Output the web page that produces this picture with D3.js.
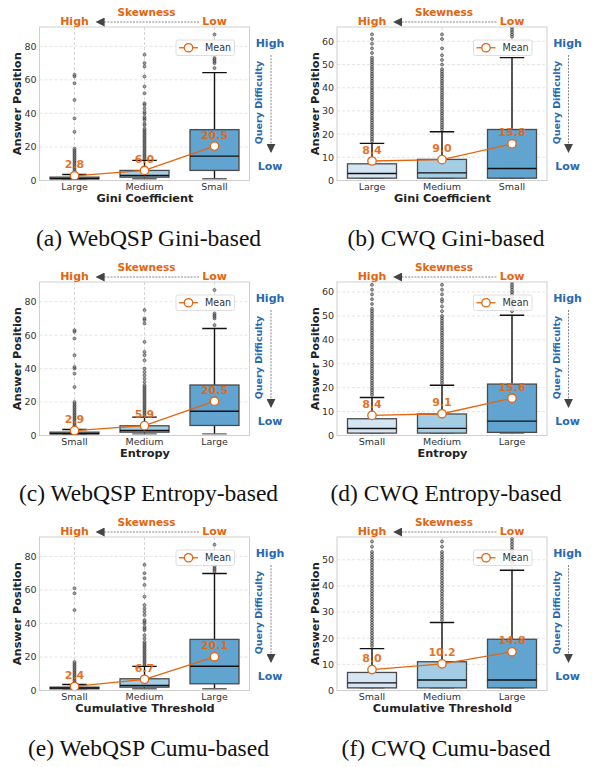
<!DOCTYPE html>
<html>
<head>
<meta charset="utf-8">
<script src="https://cdn.jsdelivr.net/npm/d3@7"></script>
<style>
  body { margin: 0; background: #fff; }
  svg { display: block; }
  text { font-family: "DejaVu Sans", sans-serif; }
</style>
</head>
<body>
<svg id="chart" width="592" height="767"></svg>
<script>
// ---- data ----
const giniCats = ['Large', 'Medium', 'Small'];
const sizeCats = ['Small', 'Medium', 'Large'];

// box stats per category: [whiskerLow, q1, median, q3, whiskerHigh]
const webqspGiniStats = [[1, 1, 1.2, 2, 3.6], [1, 2, 3, 6, 12], [1, 6, 14.5, 30.3, 64.3]];
const webqspGiniMeans = [2.8, 6.0, 20.5];
const webqspGiniOutliers = [
  [4, 5, 6, 7, 8, 9, 10, 11, 12, 13, 14, 15, 16, 17, 18, 19, 29, 37, 48, 58, 62, 63],
  [13, 14, 15, 16, 17, 18, 19, 20, 21, 22, 23, 24, 25, 26, 27, 28, 29, 30, 31, 33, 34, 36, 37, 38, 40, 41, 43, 45, 46, 52, 56, 62, 68, 70, 75],
  [67, 70, 71, 72, 73, 87]
];

const cwqGiniStats = [[1, 1, 3, 7.2, 16], [1, 1, 3.3, 9.1, 21], [1, 1, 5.2, 22, 53]];
const cwqGiniMeans = [8.4, 9.0, 15.8];
const cwqGiniOutliers = [
  [17, 18, 19, 20, 21, 22, 23, 24, 25, 26, 27, 28, 29, 30, 31, 32, 33, 34, 35, 36, 37, 38, 39, 40, 41, 42, 43, 44, 45, 46, 47, 48, 49, 50, 51, 52, 53, 55, 57, 59, 61, 63],
  [22, 23, 24, 25, 26, 27, 28, 29, 30, 31, 32, 33, 34, 35, 36, 37, 38, 39, 40, 41, 42, 43, 44, 45, 46, 47, 48, 50, 52, 54, 57, 61, 63],
  [62, 63, 64, 65, 66, 70]
];

const webqspEntropyStats = [[1, 1, 1.2, 2, 3.6], [1, 2, 3, 5.8, 11], [1, 6, 14.5, 30.2, 64]];
const webqspEntropyMeans = [2.9, 5.9, 20.5];
const webqspEntropyOutliers = [
  [4, 5, 6, 7, 8, 9, 10, 11, 12, 13, 14, 15, 16, 17, 18, 19, 20, 29, 37, 40, 41, 48, 58, 62, 63],
  [12, 13, 14, 15, 16, 17, 18, 19, 20, 21, 22, 23, 24, 25, 26, 27, 28, 29, 30, 32, 34, 36, 38, 40, 45, 48, 50, 56, 67, 69, 70, 75],
  [66, 70, 71, 72, 73, 87]
];

const cwqEntropyStats = [[1, 1, 2.9, 7, 15.9], [1, 1, 3, 9, 21], [1, 1.3, 6, 21.5, 50.3]];
const cwqEntropyMeans = [8.4, 9.1, 15.6];
const cwqEntropyOutliers = [
  [17, 18, 19, 20, 21, 22, 23, 24, 25, 26, 27, 28, 29, 30, 31, 32, 33, 34, 35, 36, 37, 38, 39, 40, 41, 42, 43, 44, 45, 46, 47, 48, 49, 50, 51, 52, 53, 55, 57, 59, 61, 63, 66],
  [22, 23, 24, 25, 26, 27, 28, 29, 30, 31, 32, 33, 34, 35, 36, 37, 38, 39, 40, 41, 42, 43, 44, 45, 46, 47, 48, 49, 50, 52, 54, 56, 57, 59, 61, 63, 66],
  [52, 53, 54, 55, 56, 57, 58, 59, 60, 61, 62, 63, 64, 66]
];

const webqspCumuStats = [[1, 1, 1.5, 2, 3.6], [1, 2, 3, 7, 14.4], [1, 4, 14.5, 30.5, 69.8]];
const webqspCumuMeans = [2.4, 6.7, 20.1];
const webqspCumuOutliers = [
  [4, 5, 6, 7, 8, 9, 10, 11, 12, 13, 14, 15, 16, 17, 48, 58, 61],
  [15, 16, 17, 18, 19, 20, 21, 22, 23, 24, 25, 26, 27, 28, 29, 31, 33, 36, 37, 38, 40, 41, 42, 45, 47, 49, 51, 56, 63, 67, 70, 75],
  [71, 72, 73, 74, 87]
];

const cwqCumuStats = [[1, 1, 2.9, 6.9, 16], [1, 1, 4, 11, 26], [1, 1, 4, 19.6, 46]];
const cwqCumuMeans = [8.0, 10.2, 14.8];
const cwqCumuOutliers = [
  [17, 18, 19, 20, 21, 22, 23, 24, 25, 26, 27, 28, 29, 30, 31, 32, 33, 34, 35, 36, 37, 38, 39, 40, 41, 42, 43, 44, 45, 46, 47, 48, 49, 50, 51, 52, 53, 55, 57, 60],
  [27, 28, 29, 30, 31, 32, 33, 34, 35, 36, 37, 38, 39, 40, 41, 42, 43, 44, 45, 46, 47, 48, 49, 50, 51, 52, 53, 55, 57, 60],
  [49, 50, 51, 52, 53, 54, 55, 56, 57, 58, 60]
];

const yTicksWebqsp = [0, 20, 40, 60, 80];
const yTicksCwqGini = [0, 10, 20, 30, 40, 50, 60];
const yTicksCwqCumu = [0, 10, 20, 30, 40, 50];

const panels = [
  { col: 0, row: 0, cats: giniCats, stats: webqspGiniStats, means: webqspGiniMeans, outliers: webqspGiniOutliers, yMax: 91.5, ticks: yTicksWebqsp, xLabel: 'Gini Coefficient', caption: '(a) WebQSP Gini-based' },
  { col: 1, row: 0, cats: giniCats, stats: cwqGiniStats, means: cwqGiniMeans, outliers: cwqGiniOutliers, yMax: 66.2, ticks: yTicksCwqGini, xLabel: 'Gini Coefficient', caption: '(b) CWQ Gini-based' },
  { col: 0, row: 1, cats: sizeCats, stats: webqspEntropyStats, means: webqspEntropyMeans, outliers: webqspEntropyOutliers, yMax: 91.8, ticks: yTicksWebqsp, xLabel: 'Entropy', caption: '(c) WebQSP Entropy-based' },
  { col: 1, row: 1, cats: sizeCats, stats: cwqEntropyStats, means: cwqEntropyMeans, outliers: cwqEntropyOutliers, yMax: 64.2, ticks: yTicksCwqGini, xLabel: 'Entropy', caption: '(d) CWQ Entropy-based' },
  { col: 0, row: 2, cats: sizeCats, stats: webqspCumuStats, means: webqspCumuMeans, outliers: webqspCumuOutliers, yMax: 91.6, ticks: yTicksWebqsp, xLabel: 'Cumulative Threshold', caption: '(e) WebQSP Cumu-based' },
  { col: 1, row: 2, cats: sizeCats, stats: cwqCumuStats, means: cwqCumuMeans, outliers: cwqCumuOutliers, yMax: 58.7, ticks: yTicksCwqCumu, xLabel: 'Cumulative Threshold', caption: '(f) CWQ Cumu-based' }
];

// ---- styling ----
const boxFills = ['#d3e4f2', '#9dcae3', '#5a9fcd'];
const orange = '#e4650f';
const blue = '#2a69b2';
const frame = { x0: 39.5, x1: 249.5, y0: 27, y1: 180.5 };

const svg = d3.select('#chart');

// arrow heads
const defs = svg.append('defs');
defs.append('marker')
  .attr('id', 'head')
  .attr('viewBox', '0 0 10 10')
  .attr('refX', 9).attr('refY', 5)
  .attr('markerWidth', 9).attr('markerHeight', 9)
  .attr('markerUnits', 'userSpaceOnUse')
  .attr('orient', 'auto')
  .append('path')
  .attr('d', 'M0,0 L10,5 L0,10 Z')
  .attr('fill', '#444');

panels.forEach((p, idx) => {
  const g = svg.append('g')
    .attr('transform', `translate(${p.col * 297.5},${p.row * 255})`);

  const x = d3.scalePoint()
    .domain(p.cats)
    .range([frame.x0, frame.x1])
    .padding(0.5);
  const step = x.step();
  const boxW = step * 0.7;
  const capW = step * 0.35;

  const y = d3.scaleLinear()
    .domain([0, p.yMax])
    .range([frame.y1, frame.y0]);

  const clipId = `clip${idx}`;
  defs.append('clipPath').attr('id', clipId)
    .append('rect')
    .attr('x', frame.x0).attr('y', frame.y0)
    .attr('width', frame.x1 - frame.x0).attr('height', frame.y1 - frame.y0);

  // grid
  g.append('g')
    .selectAll('line')
    .data(p.ticks)
    .join('line')
    .attr('x1', frame.x0).attr('x2', frame.x1)
    .attr('y1', d => y(d)).attr('y2', d => y(d))
    .attr('stroke', '#dedede')
    .attr('stroke-width', 0.8)
    .attr('stroke-dasharray', '3,2');

  g.append('g')
    .selectAll('line')
    .data(p.cats)
    .join('line')
    .attr('x1', d => x(d)).attr('x2', d => x(d))
    .attr('y1', frame.y0).attr('y2', frame.y1)
    .attr('stroke', '#cccccc')
    .attr('stroke-width', 0.8)
    .attr('stroke-dasharray', '3,2');

  // y tick labels
  g.append('g')
    .selectAll('text')
    .data(p.ticks)
    .join('text')
    .attr('x', frame.x0 - 3)
    .attr('y', d => y(d) + 3.4)
    .attr('text-anchor', 'end')
    .attr('font-size', '9.5px')
    .attr('fill', '#333')
    .text(d => d);

  // x category labels
  g.append('g')
    .selectAll('text')
    .data(p.cats)
    .join('text')
    .attr('x', d => x(d))
    .attr('y', frame.y1 + 9)
    .attr('text-anchor', 'middle')
    .attr('font-size', '9.5px')
    .attr('fill', '#333')
    .text(d => d);

  const plot = g.append('g').attr('clip-path', `url(#${clipId})`);

  // outliers
  p.cats.forEach((c, i) => {
    plot.append('g')
      .selectAll('circle')
      .data(p.outliers[i])
      .join('circle')
      .attr('cx', x(c))
      .attr('cy', d => y(d))
      .attr('r', 1.5)
      .attr('fill', '#777')
      .attr('fill-opacity', 0.6)
      .attr('stroke', '#222')
      .attr('stroke-width', 0.6)
      .attr('stroke-opacity', 0.85);
  });

  // boxes
  const boxes = plot.selectAll('.box')
    .data(p.cats.map((c, i) => ({ c, i, s: p.stats[i] })))
    .join('g')
    .attr('class', 'box');

  // whiskers
  boxes.append('line')
    .attr('x1', d => x(d.c)).attr('x2', d => x(d.c))
    .attr('y1', d => y(d.s[3])).attr('y2', d => y(d.s[4]))
    .attr('stroke', '#111').attr('stroke-width', 1.4);
  boxes.append('line')
    .attr('x1', d => x(d.c)).attr('x2', d => x(d.c))
    .attr('y1', d => y(d.s[0])).attr('y2', d => y(d.s[1]))
    .attr('stroke', '#111').attr('stroke-width', 1.4);
  // caps
  boxes.append('line')
    .attr('x1', d => x(d.c) - capW / 2).attr('x2', d => x(d.c) + capW / 2)
    .attr('y1', d => y(d.s[4])).attr('y2', d => y(d.s[4]))
    .attr('stroke', '#111').attr('stroke-width', 1.4);
  boxes.append('line')
    .attr('x1', d => x(d.c) - capW / 2).attr('x2', d => x(d.c) + capW / 2)
    .attr('y1', d => y(d.s[0])).attr('y2', d => y(d.s[0]))
    .attr('stroke', '#666').attr('stroke-width', 1.4);

  boxes.append('rect')
    .attr('x', d => x(d.c) - boxW / 2)
    .attr('width', boxW)
    .attr('y', d => y(d.s[3]))
    .attr('height', d => Math.max(1, y(d.s[1]) - y(d.s[3])))
    .attr('fill', d => boxFills[d.i])
    .attr('fill-opacity', 0.95)
    .attr('stroke', '#4a4a4a')
    .attr('stroke-width', 1.3);

  boxes.append('line')
    .attr('x1', d => x(d.c) - boxW / 2).attr('x2', d => x(d.c) + boxW / 2)
    .attr('y1', d => y(d.s[2])).attr('y2', d => y(d.s[2]))
    .attr('stroke', '#111').attr('stroke-width', 1.4);

  // mean line + markers
  const meanPts = p.cats.map((c, i) => [x(c), y(p.means[i])]);
  g.append('path')
    .attr('d', d3.line()(meanPts))
    .attr('fill', 'none')
    .attr('stroke', orange)
    .attr('stroke-width', 1.3);

  g.append('g')
    .selectAll('circle')
    .data(meanPts)
    .join('circle')
    .attr('cx', d => d[0]).attr('cy', d => d[1])
    .attr('r', 4.2)
    .attr('fill', '#fff')
    .attr('stroke', orange)
    .attr('stroke-width', 1.3);

  g.append('g')
    .selectAll('text')
    .data(p.means)
    .join('text')
    .attr('x', (d, i) => x(p.cats[i]))
    .attr('y', d => y(d) - 7.5)
    .attr('text-anchor', 'middle')
    .attr('font-size', '11px')
    .attr('font-weight', 'bold')
    .attr('fill', orange)
    .attr('fill-opacity', 0.92)
    .text(d => d.toFixed(1));

  // frame
  g.append('rect')
    .attr('x', frame.x0).attr('y', frame.y0)
    .attr('width', frame.x1 - frame.x0).attr('height', frame.y1 - frame.y0)
    .attr('fill', 'none')
    .attr('stroke', '#cfcfcf')
    .attr('stroke-width', 1);

  // legend
  const lg = g.append('g').attr('transform', `translate(${frame.x1 - 73.5},${frame.y0 + 13})`);
  lg.append('rect')
    .attr('width', 58.5).attr('height', 15.5)
    .attr('rx', 2)
    .attr('fill', '#fff').attr('fill-opacity', 0.85)
    .attr('stroke', '#d6d6d6').attr('stroke-width', 0.8);
  lg.append('line')
    .attr('x1', 3).attr('x2', 22).attr('y1', 7.75).attr('y2', 7.75)
    .attr('stroke', orange).attr('stroke-width', 1.3);
  lg.append('circle')
    .attr('cx', 12.5).attr('cy', 7.75).attr('r', 4.2)
    .attr('fill', '#fff').attr('stroke', orange).attr('stroke-width', 1.3);
  lg.append('text')
    .attr('x', 29).attr('y', 11.3)
    .attr('font-size', '9.6px').attr('fill', '#333')
    .text('Mean');

  // axis titles
  g.append('text')
    .attr('transform', `translate(21,${(frame.y0 + frame.y1) / 2}) rotate(-90)`)
    .attr('text-anchor', 'middle')
    .attr('font-size', '11.3px').attr('font-weight', 'bold').attr('fill', '#222')
    .text('Answer Position');
  g.append('text')
    .attr('x', (frame.x0 + frame.x1) / 2 + 0.5)
    .attr('y', frame.y1 + 21)
    .attr('text-anchor', 'middle')
    .attr('font-size', '11.3px').attr('font-weight', 'bold').attr('fill', '#222')
    .text(p.xLabel);

  // skewness header
  g.append('text')
    .attr('x', 146.5).attr('y', 16)
    .attr('text-anchor', 'middle')
    .attr('font-size', '10.5px').attr('font-weight', 'bold').attr('fill', orange)
    .text('Skewness');
  g.append('text')
    .attr('x', x(p.cats[0])).attr('y', 25)
    .attr('text-anchor', 'middle')
    .attr('font-size', '11px').attr('font-weight', 'bold').attr('fill', orange)
    .text('High');
  g.append('text')
    .attr('x', x(p.cats[2])).attr('y', 25)
    .attr('text-anchor', 'middle')
    .attr('font-size', '11px').attr('font-weight', 'bold').attr('fill', orange)
    .text('Low');
  g.append('line')
    .attr('x1', 199).attr('x2', 96.5).attr('y1', 22).attr('y2', 22)
    .attr('stroke', '#888').attr('stroke-width', 1)
    .attr('stroke-dasharray', '2,1.2')
    .attr('marker-end', 'url(#head)');

  // query difficulty side
  g.append('text')
    .attr('x', 270).attr('y', 47)
    .attr('text-anchor', 'middle')
    .attr('font-size', '11px').attr('font-weight', 'bold').attr('fill', blue)
    .text('High');
  g.append('text')
    .attr('x', 270).attr('y', 170)
    .attr('text-anchor', 'middle')
    .attr('font-size', '11px').attr('font-weight', 'bold').attr('fill', blue)
    .text('Low');
  g.append('text')
    .attr('transform', 'translate(262,102.5) rotate(-90)')
    .attr('text-anchor', 'middle')
    .attr('font-size', '9.5px').attr('font-weight', 'bold').attr('fill', blue)
    .text('Query Difficulty');
  g.append('line')
    .attr('x1', 271).attr('x2', 271).attr('y1', 55).attr('y2', 152)
    .attr('stroke', '#888').attr('stroke-width', 1)
    .attr('stroke-dasharray', '2,1.2')
    .attr('marker-end', 'url(#head)');

  // caption
  g.append('text')
    .attr('x', 148.5).attr('y', 246)
    .attr('text-anchor', 'middle')
    .style('font-family', '"Liberation Serif", "Times New Roman", serif')
    .attr('font-size', '23.5px').attr('fill', '#111')
    .text(p.caption);
});
</script>
</body>
</html>
